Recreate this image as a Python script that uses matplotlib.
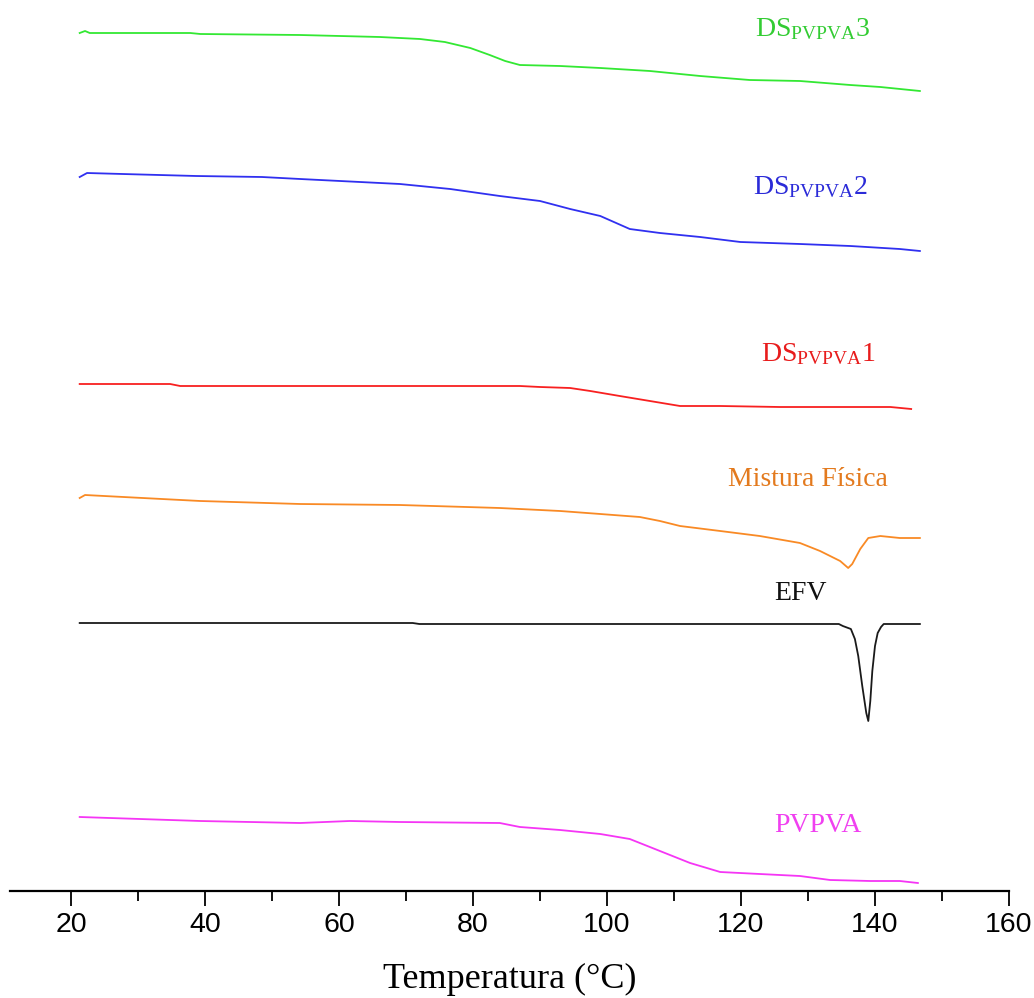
import matplotlib
matplotlib.use("Agg")
import matplotlib.pyplot as plt
import numpy as np

# ---- data (temperature in °C, heat flow in arbitrary offset units) ----
ds3_T = [21.3, 22.1, 22.8, 37.8, 39.3, 54.2, 66.1, 72.1, 75.8, 79.6, 82.5, 84.8, 87.0, 93.0, 99.0, 106.4, 113.9, 121.3, 128.8, 136.3, 140.8, 146.7]
ds3_y = [858, 860, 858, 858, 857, 856, 854, 852, 849, 843, 836, 830, 826, 825, 823, 820, 815, 811, 810, 806, 804, 800]

ds2_T = [21.3, 22.4, 27.7, 38.7, 48.5, 54.2, 69.1, 76.6, 84.0, 90.0, 94.5, 99.0, 103.4, 107.9, 113.9, 119.9, 128.8, 136.3, 143.7, 146.7]
ds2_y = [714, 718, 717, 715, 714, 712, 707, 702, 695, 690, 682, 675, 662, 658, 654, 649, 647, 645, 642, 640]

ds1_T = [21.3, 34.8, 36.3, 87.0, 90.0, 94.5, 97.5, 101.9, 106.4, 110.9, 116.9, 125.8, 137.8, 142.3, 145.4]
ds1_y = [507, 507, 505, 505, 504, 503, 500, 495, 490, 485, 485, 484, 484, 484, 482]

mf_T = [21.3, 22.1, 39.3, 54.2, 69.1, 84.0, 93.0, 99.0, 104.9, 107.9, 110.9, 116.9, 122.8, 128.8, 131.8, 134.8, 136.0, 136.6, 137.8, 139.0, 140.8, 143.7, 146.7]
mf_y = [393, 396, 390, 387, 386, 383, 380, 377, 374, 370, 365, 360, 355, 348, 340, 330, 323, 327, 342, 353, 355, 353, 353]

efv_T = [21.3, 71.0, 72.0, 134.6, 135.2, 136.4, 137.0, 137.5, 138.1, 138.7, 139.0, 139.3, 139.6, 140.0, 140.4, 140.9, 141.3, 141.6, 146.7]
efv_y = [268, 268, 267, 267, 265, 262, 252, 235, 205, 178, 170, 190, 220, 245, 258, 264, 267, 267, 267]

pv_T = [21.3, 39.3, 54.2, 61.6, 69.1, 84.0, 87.0, 93.0, 99.0, 103.4, 107.9, 112.4, 116.9, 122.8, 128.8, 133.3, 139.3, 143.7, 146.4]
pv_y = [74, 70, 68, 70, 69, 68, 64, 61, 57, 52, 40, 28, 19, 17, 15, 11, 10, 10, 8]

series = [
    (ds3_T, ds3_y, "#33e833", "DS$_{\\mathrm{PVPVA}}$3", 130.7, 862),
    (ds2_T, ds2_y, "#3030f0", "DS$_{\\mathrm{PVPVA}}$2", 130.3, 704),
    (ds1_T, ds1_y, "#f82020", "DS$_{\\mathrm{PVPVA}}$1", 131.5, 537),
    (mf_T, mf_y, "#f98a25", "Mistura Física", 130.0, 412),
    (efv_T, efv_y, "#1a1a1a", "EFV", 128.8, 298),
    (pv_T, pv_y, "#f535f5", "PVPVA", 131.5, 66),
]
label_colors = ["#33cc33", "#2b2bd8", "#e81c1c", "#e37a1e", "#111111", "#f040f0"]

plt.rcParams['mathtext.fontset'] = 'custom'
plt.rcParams['mathtext.rm'] = 'Liberation Serif'
plt.rcParams['mathtext.it'] = 'Liberation Serif:italic'

fig = plt.figure(figsize=(10.34, 9.98), dpi=100)
ax = fig.add_axes([10 / 1034, (998 - 891) / 998, 999 / 1034, 881 / 998])

for (T, y, c, lab, lx, ly), lc in zip(series, label_colors):
    ax.plot(T, y, color=c, lw=1.3)
    ax.text(lx, ly, lab, color=lc, fontsize=20, family='Liberation Serif',
            ha='center', va='center')

ax.set_xlim(10.9, 160)
ax.set_ylim(0, 881)
for s in ['top', 'right', 'left']:
    ax.spines[s].set_visible(False)
ax.spines['bottom'].set_linewidth(1.6)
ax.set_yticks([])
ax.set_xticks(np.arange(20, 161, 20))
ax.set_xticks(np.arange(30, 160, 20), minor=True)
ax.tick_params(axis='x', which='major', direction='out', length=11, width=1.3, pad=4)
ax.tick_params(axis='x', which='minor', direction='out', length=7, width=1.3)
for t in ax.get_xticklabels():
    t.set_family('Liberation Sans')
    t.set_fontsize(20.5)
ax.set_xlabel("Temperatura (°C)", family='Liberation Serif', fontsize=26, labelpad=18)

fig.savefig("out.png", dpi=100)
